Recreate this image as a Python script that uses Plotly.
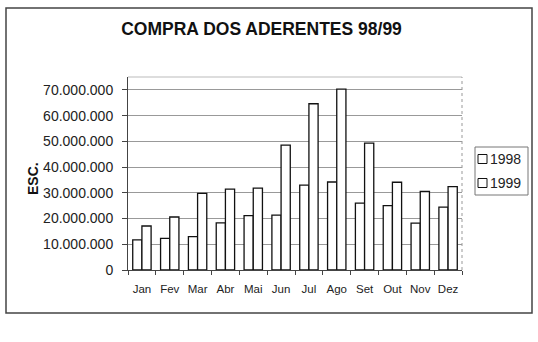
import plotly.graph_objects as go

months = ["Jan", "Fev", "Mar", "Abr", "Mai", "Jun", "Jul", "Ago", "Set", "Out", "Nov", "Dez"]
v1998 = [11700000, 12300000, 13000000, 18300000, 21100000, 21300000,
         33000000, 34200000, 26000000, 25000000, 18200000, 24400000]
v1999 = [17100000, 20600000, 29800000, 31400000, 31800000, 48500000,
         64600000, 70300000, 49300000, 34100000, 30500000, 32400000]
series_names = ["1998", "1999"]
tickvals = [0, 10000000, 20000000, 30000000, 40000000, 50000000, 60000000, 70000000]
ticktext = ["0", "10.000.000", "20.000.000", "30.000.000", "40.000.000",
            "50.000.000", "60.000.000", "70.000.000"]

FONT = "Liberation Sans, Arial, sans-serif"
L, R, T, B = 128, 76, 77, 72
PW, PH = 538 - L - R, 342 - T - B


def px(x):
    return (x - L) / PW


def py(y):
    return (342 - B - y) / PH


bar_style = dict(marker=dict(color="white", line=dict(color="#111", width=1.3)))

fig = go.Figure()
fig.add_trace(go.Bar(x=months, y=v1998, name=series_names[0], **bar_style))
fig.add_trace(go.Bar(x=months, y=v1999, name=series_names[1], **bar_style))

fig.update_layout(
    width=538, height=342,
    margin=dict(l=L, r=R, t=T, b=B),
    paper_bgcolor="white", plot_bgcolor="white",
    barmode="group", bargap=0.34, bargroupgap=0.0,
    font=dict(family=FONT, color="#222"),
    title=dict(text="<b>COMPRA DOS ADERENTES 98/99</b>", x=261.5 / 538, xref="container",
               y=1 - 29 / 342, yref="container", xanchor="center", yanchor="middle",
               font=dict(size=17.5, color="#111", family=FONT)),
    showlegend=False,
)
fig.update_yaxes(range=[0, 75000000], tickvals=tickvals, ticktext=ticktext,
                 showgrid=True, gridcolor="#999", gridwidth=1,
                 showline=True, linecolor="#444", linewidth=1,
                 ticks="outside", ticklen=5, tickcolor="#444", ticklabelstandoff=6,
                 tickfont=dict(size=14, color="#222"), zeroline=False)
fig.update_xaxes(showline=True, linecolor="#444", linewidth=1,
                 ticks="outside", ticklen=4, tickcolor="#444", tickson="boundaries",
                 ticklabelstandoff=8, tickangle=0,
                 tickfont=dict(size=11.5, color="#222"), showgrid=False)

shapes = [
    dict(type="line", xref="paper", yref="paper", x0=0, x1=1, y0=1, y1=1,
         line=dict(color="#bbb", width=1)),
    dict(type="line", xref="paper", yref="paper", x0=1, x1=1, y0=0, y1=1,
         line=dict(color="#999", width=1, dash="dot")),
    # outer chart border
    dict(type="rect", xref="paper", yref="paper",
         x0=px(6), x1=px(532), y0=py(313), y1=py(8),
         line=dict(color="#444", width=1.5)),
    # legend box
    dict(type="rect", xref="paper", yref="paper",
         x0=px(475), x1=px(528), y0=py(195), y1=py(147),
         line=dict(color="#777", width=1), fillcolor="white"),
]
for i, name in enumerate(series_names):
    cy = 159 + 24 * i
    shapes.append(dict(type="rect", xref="paper", yref="paper",
                       x0=px(478), x1=px(487), y0=py(cy + 4.5), y1=py(cy - 4.5),
                       line=dict(color="#111", width=1), fillcolor="white"))
    fig.add_annotation(text=name, xref="paper", yref="paper", x=px(488), y=py(cy),
                       xanchor="left", yanchor="middle", showarrow=False,
                       font=dict(size=14, color="#222", family=FONT))
fig.update_layout(shapes=shapes)
fig.add_annotation(text="<b>ESC.</b>", textangle=-90, xref="paper", yref="paper",
                   x=px(33), y=py(178), showarrow=False,
                   font=dict(size=14, color="#111", family=FONT),
                   xanchor="center", yanchor="middle")

fig.write_html("out.html")
